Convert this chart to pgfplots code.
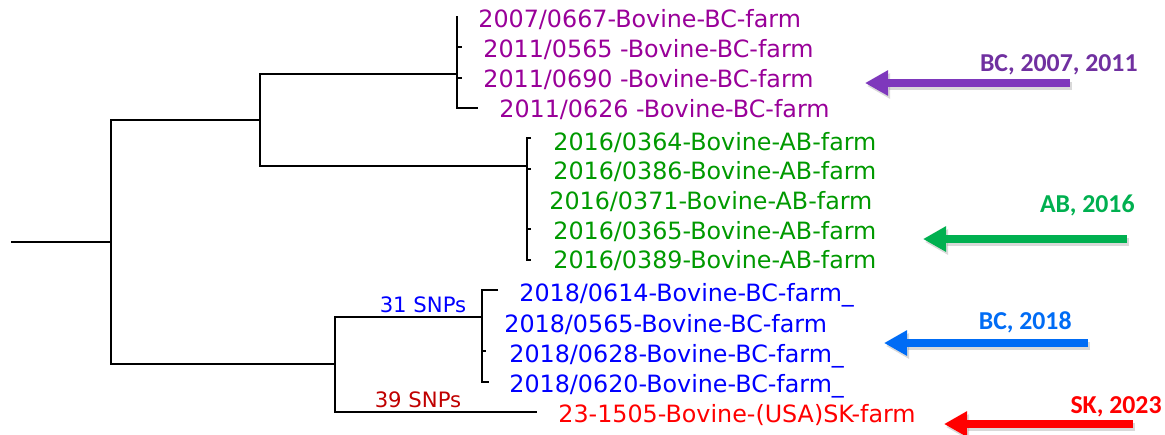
\documentclass[border=0pt]{standalone}
\usepackage{pgfplots}
\pgfplotsset{compat=1.18}
\usepackage{fontspec}
\setmainfont{DejaVu Sans}
\newfontfamily\carlito{Carlito}
\usetikzlibrary{arrows.meta}
\definecolor{tpurple}{RGB}{153,0,153}
\definecolor{tgreen}{RGB}{0,153,0}
\definecolor{tblue}{RGB}{0,0,255}
\definecolor{tred}{RGB}{255,0,0}
\definecolor{snpred}{RGB}{192,0,0}
\definecolor{apurple}{RGB}{126,56,188}
\definecolor{lpurple}{RGB}{112,48,160}
\definecolor{agreen}{RGB}{0,176,80}
\definecolor{ablue}{RGB}{0,108,245}
\begin{document}
\begin{tikzpicture}
\begin{axis}[
  width=582.5pt, height=217pt, scale only axis,
  xmin=0, xmax=1165, ymin=0, ymax=434, y dir=reverse,
  hide axis, clip=false,
  every axis plot/.append style={no markers, sharp plot},
]
% tree branches
\addplot[black, line width=1.15pt] coordinates {(11,242) (111,242)};
\addplot[black, line width=1.15pt] coordinates {(260,120) (111,120) (111,364) (335,364)};
\addplot[black, line width=1.15pt] coordinates {(457,74) (260,74) (260,166) (527,166)};
\addplot[black, line width=1.15pt] coordinates {(457,16) (457,108) (478,108)};
\addplot[black, line width=1.15pt] coordinates {(457,47) (462,47)};
\addplot[black, line width=1.15pt] coordinates {(457,78) (462,78)};
\addplot[black, line width=1.15pt] coordinates {(531,138) (527,138) (527,260) (531,260)};
\addplot[black, line width=1.15pt] coordinates {(527,169) (531,169)};
\addplot[black, line width=1.15pt] coordinates {(527,229) (531,229)};
\addplot[black, line width=1.15pt] coordinates {(482,317) (335,317) (335,412) (537,412)};
\addplot[black, line width=1.15pt] coordinates {(498,290) (482,290) (482,382) (489,382)};
\addplot[black, line width=1.15pt] coordinates {(482,351) (486,351)};
% arrow shadows
\addplot[gray, opacity=0.3, line width=3.8pt, -{Triangle[width=12pt,length=11.5pt]}] coordinates {(1072,86) (867,86)};
\addplot[gray, opacity=0.3, line width=3.8pt, -{Triangle[width=12pt,length=11.5pt]}] coordinates {(1129,242) (925,242)};
\addplot[gray, opacity=0.3, line width=3.8pt, -{Triangle[width=12pt,length=11.5pt]}] coordinates {(1090,346) (886,346)};
\addplot[gray, opacity=0.3, line width=3.8pt, -{Triangle[width=12pt,length=11.5pt]}] coordinates {(1135,427) (946,427)};
% arrows
\addplot[apurple, line width=3.8pt, -{Triangle[width=12pt,length=11.5pt]}] coordinates {(1070,83) (865,83)};
\addplot[agreen, line width=3.8pt, -{Triangle[width=12pt,length=11.5pt]}] coordinates {(1127,239) (923,239)};
\addplot[ablue, line width=3.8pt, -{Triangle[width=12pt,length=11.5pt]}] coordinates {(1088,343) (884,343)};
\addplot[tred, line width=3.8pt, -{Triangle[width=12pt,length=11.5pt]}] coordinates {(1133,424) (944,424)};
% tip labels
\begin{scope}[every node/.style={anchor=base west, inner sep=0pt, font=\fontsize{11.9}{14}\selectfont}]
\node[text=tpurple] at (axis cs:478,27) {2007/0667-Bovine-BC-farm};
\node[text=tpurple] at (axis cs:483,57) {2011/0565 -Bovine-BC-farm};
\node[text=tpurple] at (axis cs:483,87) {2011/0690 -Bovine-BC-farm};
\node[text=tpurple] at (axis cs:499,117) {2011/0626 -Bovine-BC-farm};
\node[text=tgreen] at (axis cs:553,150) {2016/0364-Bovine-AB-farm};
\node[text=tgreen] at (axis cs:553,179) {2016/0386-Bovine-AB-farm};
\node[text=tgreen] at (axis cs:549,209) {2016/0371-Bovine-AB-farm};
\node[text=tgreen] at (axis cs:553,239) {2016/0365-Bovine-AB-farm};
\node[text=tgreen] at (axis cs:553,268) {2016/0389-Bovine-AB-farm};
\node[text=tblue] at (axis cs:519,301) {2018/0614-Bovine-BC-farm\_};
\node[text=tblue] at (axis cs:504,332) {2018/0565-Bovine-BC-farm};
\node[text=tblue] at (axis cs:509,362) {2018/0628-Bovine-BC-farm\_};
\node[text=tblue] at (axis cs:509,392) {2018/0620-Bovine-BC-farm\_};
\node[text=tred] at (axis cs:558,422) {23-1505-Bovine-(USA)SK-farm};
\end{scope}
% SNP labels
\node[anchor=base, inner sep=0pt, text=tblue, font=\fontsize{10.6}{12}\selectfont] at (axis cs:423,312) {31 SNPs};
\node[anchor=base, inner sep=0pt, text=snpred, font=\fontsize{10.6}{12}\selectfont] at (axis cs:418,407) {39 SNPs};
% arrow labels
\begin{scope}[every node/.style={anchor=base east, inner sep=0pt, font=\carlito\bfseries\fontsize{12.9}{15}\selectfont}]
\node[text=lpurple] at (axis cs:1138,71) {BC, 2007, 2011};
\node[text=agreen] at (axis cs:1135,212) {AB, 2016};
\node[text=ablue] at (axis cs:1072,329) {BC, 2018};
\node[text=tred] at (axis cs:1162,413) {SK, 2023};
\end{scope}
\end{axis}
\pgfresetboundingbox
\path (0,0) rectangle (582.5pt,217pt);
\end{tikzpicture}
\end{document}
